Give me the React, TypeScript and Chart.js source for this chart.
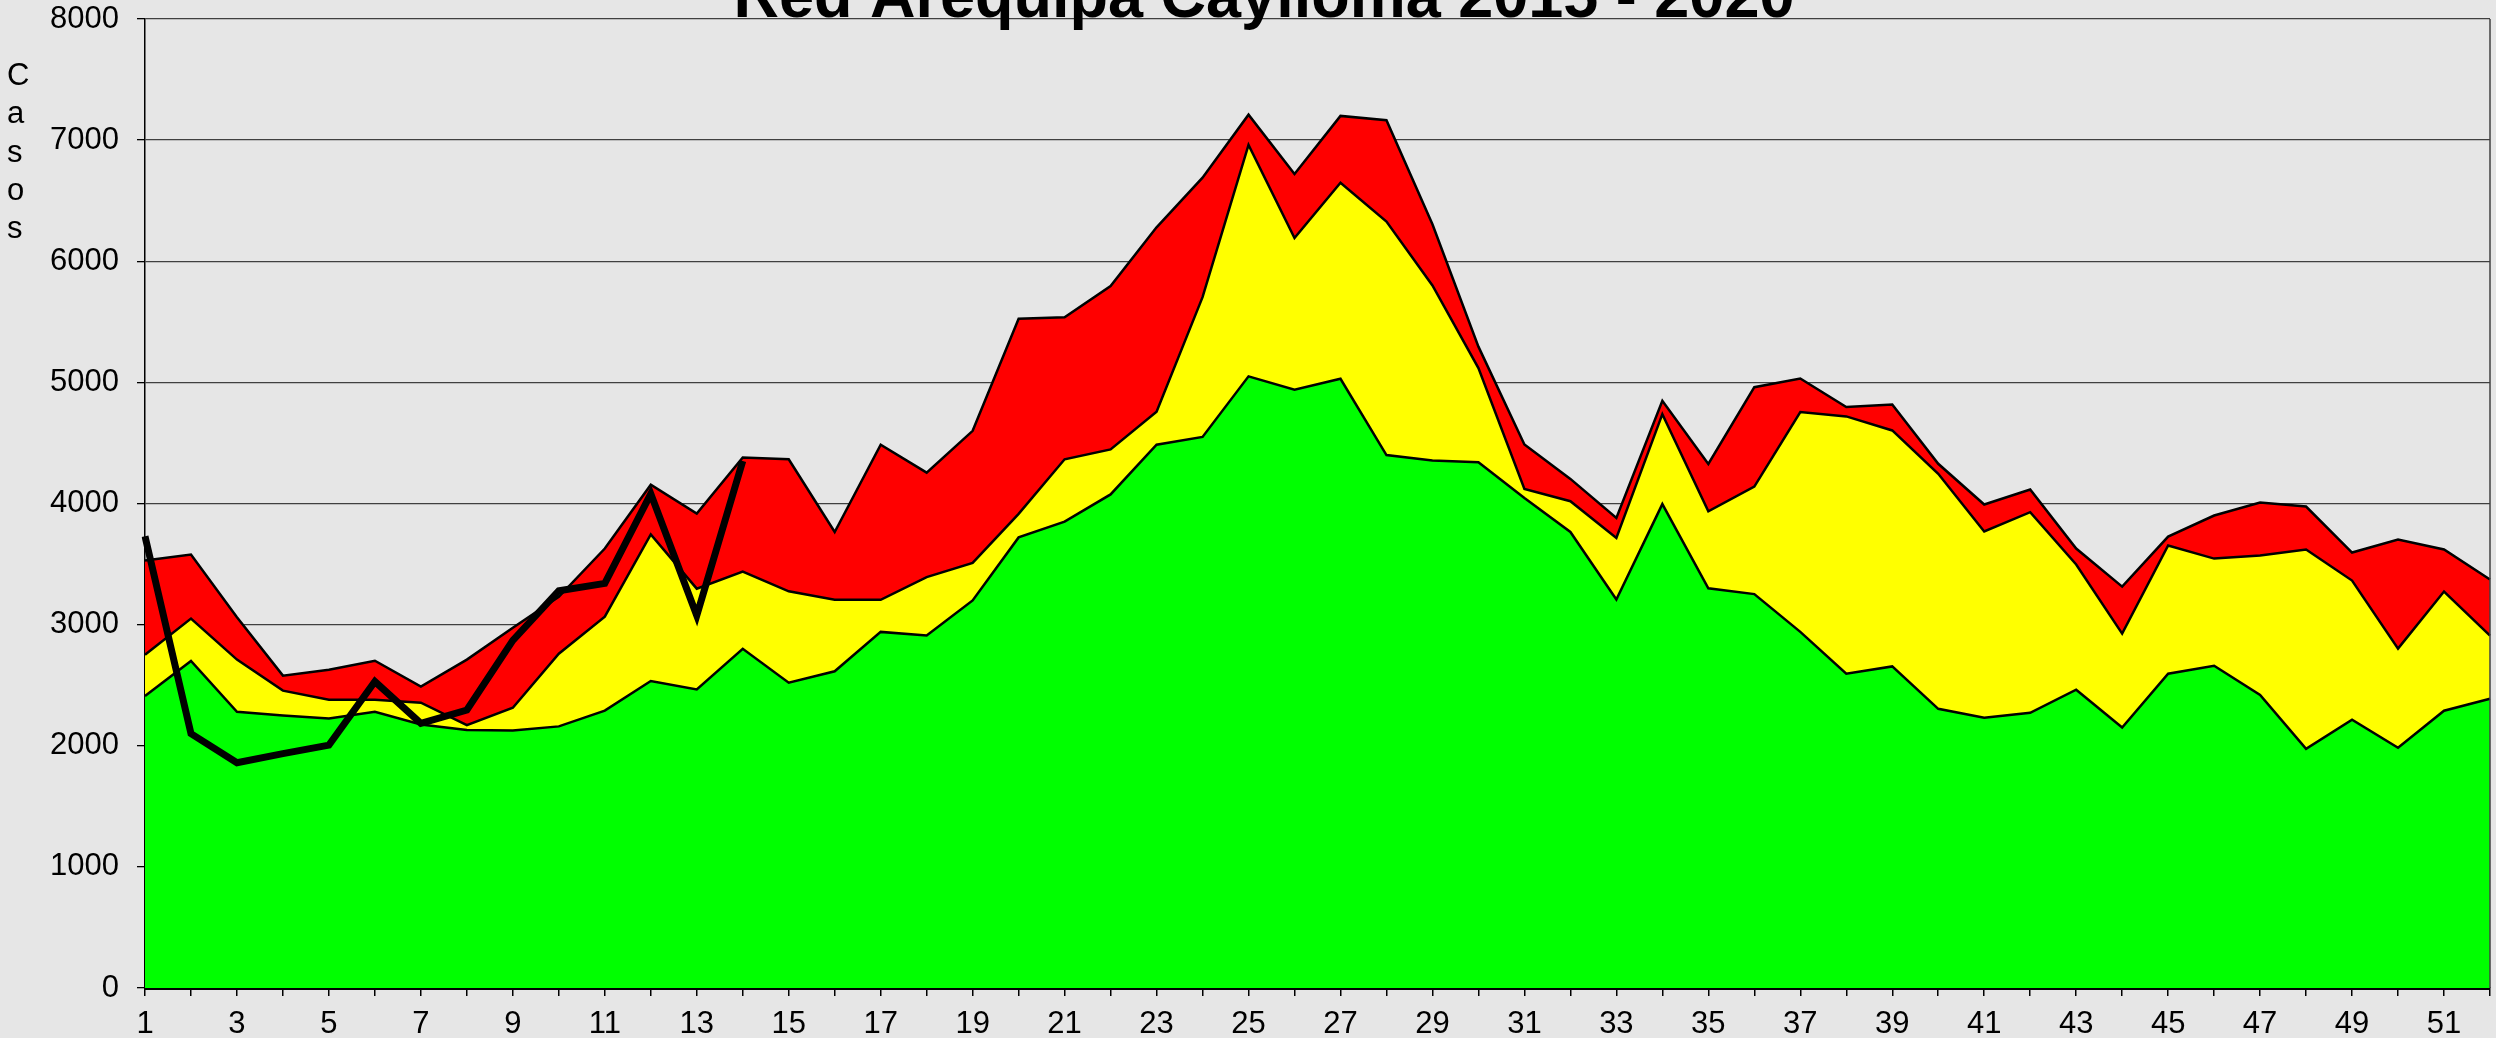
import React, { useEffect, useRef } from "react";
import { Chart, registerables } from "chart.js";

Chart.register(...registerables);

const TITLE = "Red Arequipa Caylloma 2015 - 2020";
const Y_TITLE_LETTERS = ["C", "a", "s", "o", "s"];

const weeks = Array.from({ length: 52 }, (_, i) => String(i + 1));

// Epidemic channel boundaries (cumulative levels)
const exito = [
  2410, 2700, 2280, 2250, 2225, 2280, 2175, 2130, 2125, 2160,
  2290, 2535, 2465, 2800, 2520, 2615, 2940, 2910, 3200, 3720,
  3850, 4075, 4485, 4550, 5050, 4940, 5030, 4400, 4355, 4340,
  4045, 3765, 3208, 3995, 3300, 3252, 2940, 2595, 2655, 2305,
  2232, 2272, 2463, 2150, 2595, 2660, 2420, 1975, 2215, 1983,
  2289, 2388,
];

const seguridad = [
  2752, 3050, 2711, 2455, 2380, 2380, 2355, 2170, 2314, 2760,
  3066, 3744, 3297, 3438, 3275, 3205, 3205, 3392, 3509, 3915,
  4365, 4447, 4757, 5704, 6960, 6192, 6648, 6328, 5800, 5118,
  4121, 4019, 3715, 4738, 3936, 4140, 4755, 4719, 4603, 4245,
  3769, 3928, 3496, 2926, 3653, 3545, 3570, 3620, 3364, 2802,
  3273, 2909,
];

const alarma = [
  3529, 3579, 3060, 2579, 2628, 2702, 2488, 2711, 2975, 3230,
  3628, 4155, 3917, 4380, 4365, 3765, 4485, 4255, 4600, 5525,
  5537, 5795, 6280, 6690, 7210, 6720, 7200, 7165, 6305, 5295,
  4487, 4203, 3880, 4848, 4327, 4960, 5032, 4796, 4817, 4328,
  3992, 4115, 3628, 3314, 3727, 3901, 4008, 3975, 3595, 3702,
  3620, 3372,
];

const casos2020 = [
  3730, 2100, 1860, 1935, 2005, 2530, 2185, 2295, 2870, 3280,
  3340, 4080, 3075, 4350,
];

const yTicks = [0, 1000, 2000, 3000, 4000, 5000, 6000, 7000, 8000];

const FONT = "'Liberation Sans', Arial, sans-serif";
const BG = "#e6e6e6";

export default function App() {
  const ref = useRef<HTMLCanvasElement | null>(null);

  useEffect(() => {
    document.body.style.background = BG;
    const canvas = ref.current;
    if (!canvas) return;

    const decor = {
      id: "decor",
      beforeDraw(chart: any) {
        const ctx = chart.ctx;
        ctx.save();
        ctx.fillStyle = BG;
        ctx.fillRect(0, 0, chart.width, chart.height);
        ctx.restore();
      },
      afterDraw(chart: any) {
        const ctx = chart.ctx;
        const a = chart.chartArea;
        ctx.save();
        // right border of plot
        ctx.strokeStyle = "#404040";
        ctx.lineWidth = 1.5;
        ctx.beginPath();
        ctx.moveTo(a.right, a.top);
        ctx.lineTo(a.right, a.bottom);
        ctx.stroke();
        // title
        ctx.fillStyle = "#000";
        ctx.font = `bold 63px ${FONT}`;
        ctx.textAlign = "center";
        ctx.textBaseline = "alphabetic";
        ctx.fillText(TITLE, 1264, 17);
        // vertical stacked y title
        ctx.font = `31px ${FONT}`;
        ctx.textAlign = "left";
        Y_TITLE_LETTERS.forEach((ch, i) => {
          ctx.fillText(ch, 7, 85 + i * 38.3);
        });
        ctx.restore();
      },
    };

    const chart = new Chart(canvas, {
      type: "line",
      data: {
        labels: weeks,
        datasets: [
          {
            label: "Éxito",
            data: exito,
            backgroundColor: "#00ff00",
            borderColor: "#000",
            borderWidth: 2.5,
            fill: "origin",
            pointRadius: 0,
            tension: 0,
            order: 3,
          },
          {
            label: "Seguridad",
            data: seguridad,
            backgroundColor: "#ffff00",
            borderColor: "#000",
            borderWidth: 2.5,
            fill: "-1",
            pointRadius: 0,
            tension: 0,
            order: 2,
          },
          {
            label: "Alarma",
            data: alarma,
            backgroundColor: "#ff0000",
            borderColor: "#000",
            borderWidth: 2.5,
            fill: "-1",
            pointRadius: 0,
            tension: 0,
            order: 1,
          },
          {
            label: "2020",
            data: casos2020,
            borderColor: "#000",
            backgroundColor: "#000",
            borderWidth: 7,
            fill: false,
            pointRadius: 0,
            tension: 0,
            order: 0,
          },
        ],
      },
      options: {
        animation: false,
        responsive: false,
        devicePixelRatio: 1,
        layout: { padding: { left: 0, top: 19, right: 6, bottom: 0 } },
        plugins: {
          legend: { display: false },
          title: { display: false },
          tooltip: { enabled: false },
          filler: { drawTime: "beforeDatasetsDraw" },
        } as any,
        scales: {
          x: {
            type: "category",
            offset: false,
            afterFit(scale: any) {
              scale.height = 50;
              scale.paddingLeft = 0;
              scale.paddingRight = 0;
            },
            grid: {
              display: true,
              drawOnChartArea: false,
              drawTicks: true,
              tickLength: 8,
              tickColor: "#000",
              lineWidth: 1.5,
            },
            border: { display: true, color: "#000", width: 3 },
            ticks: {
              autoSkip: false,
              maxRotation: 0,
              minRotation: 0,
              padding: 10,
              color: "#000",
              font: { family: FONT, size: 31 },
              callback: (_v: any, idx: number) => (idx % 2 === 0 ? weeks[idx] : ""),
            },
          },
          y: {
            min: 0,
            max: 8000,
            afterFit(scale: any) {
              scale.width = 145;
              scale.paddingTop = 0;
              scale.paddingBottom = 0;
            },
            afterBuildTicks(scale: any) {
              scale.ticks = yTicks.map((v) => ({ value: v }));
            },
            grid: {
              color: "#404040",
              lineWidth: 1.3,
              drawTicks: true,
              tickLength: 8,
              tickColor: "#000",
            },
            border: { display: true, color: "#000", width: 1.5 },
            ticks: {
              padding: 18,
              color: "#000",
              font: { family: FONT, size: 31 },
              callback: (v: any) => String(v),
            },
          },
        },
      },
      plugins: [decor],
    });

    return () => chart.destroy();
  }, []);

  return (
    <canvas
      ref={ref}
      width={2496}
      height={1038}
      style={{ position: "fixed", left: 0, top: 0, width: 2496, height: 1038, display: "block" }}
    />
  );
}
